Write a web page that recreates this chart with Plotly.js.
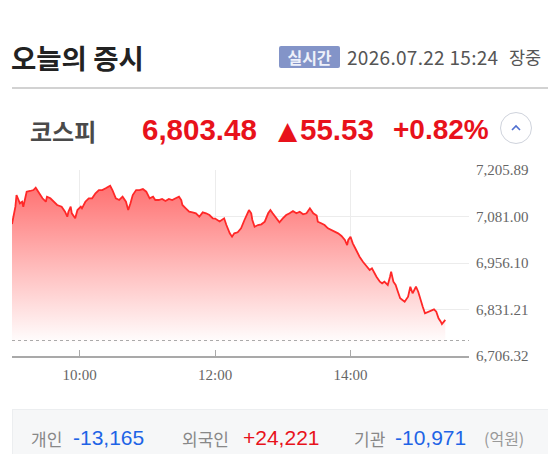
<!DOCTYPE html>
<html><head><meta charset="utf-8">
<script src="https://cdn.plot.ly/plotly-3.0.1.min.js"></script>
<style>
body{margin:0;width:548px;height:454px;overflow:hidden;background:#fff;position:relative;font-family:'Noto Sans CJK KR','Noto Sans',sans-serif;}
.abs{position:absolute;white-space:nowrap;}
.row{position:absolute;display:flex;align-items:center;white-space:nowrap;}
.num{font-family:'Liberation Sans',Arial,sans-serif;}
</style></head><body>
<div id="chart" style="position:absolute;left:0;top:0;width:548px;height:454px;"></div>

<div class="row" style="left:11px;top:40px;height:34px;font-size:27.5px;font-weight:700;color:#222;letter-spacing:0px;">오늘의 증시</div>
<div class="row" style="left:279px;top:46px;width:61px;height:22px;justify-content:center;background:#8394c8;color:#eef1fa;font-size:16px;font-weight:700;border-radius:2px;">실시간</div>
<div class="row" style="left:347px;top:43px;height:26px;font-size:19px;color:#555;letter-spacing:0.3px;">2026.07.22 15:24</div>
<div class="row" style="left:509px;top:43px;height:26px;font-size:17.5px;color:#555;letter-spacing:0px;">장중</div>
<div class="abs" style="left:12px;top:87px;width:536px;height:2px;background:#d2d2d2;"></div>

<div class="row" style="left:30px;top:115px;height:30px;font-size:24px;font-weight:700;color:#4a4a4a;">코스피</div>
<div class="row num" style="left:142px;top:114px;height:32px;font-size:29.5px;font-weight:700;color:#e8121b;">6,803.48</div>
<div class="row" style="left:278px;top:114px;height:32px;font-size:25px;color:#e8121b;font-family:'DejaVu Sans';">▲</div>
<div class="row num" style="left:300px;top:114px;height:32px;font-size:29.5px;font-weight:700;color:#e8121b;">55.53</div>
<div class="row num" style="left:393px;top:114px;height:32px;font-size:28px;font-weight:700;color:#e8121b;">+0.82%</div>
<div class="abs" style="left:500px;top:112px;width:32px;height:32px;border:1px solid #cfd3dc;border-radius:50%;box-sizing:border-box;background:#fff;">
  <svg width="30" height="30" style="position:absolute;left:0;top:0"><polyline points="11,17 15,13 19,17" fill="none" stroke="#4f6fd0" stroke-width="1.6"/></svg>
</div>

<div class="abs" style="left:12px;top:409px;width:540px;height:50px;background:#f6f7f8;border:1px solid #eceef0;box-sizing:border-box;"></div>
<div class="row" style="left:31px;top:424px;height:28px;font-size:17px;color:#888;">개인</div>
<div class="row num" style="left:73px;top:424px;height:28px;font-size:21px;color:#1e64e6;">-13,165</div>
<div class="row" style="left:182px;top:424px;height:28px;font-size:17px;color:#888;">외국인</div>
<div class="row num" style="left:243px;top:424px;height:28px;font-size:21px;color:#e8121b;">+24,221</div>
<div class="row" style="left:354px;top:424px;height:28px;font-size:17px;color:#888;">기관</div>
<div class="row num" style="left:395px;top:424px;height:28px;font-size:21px;color:#1e64e6;">-10,971</div>
<div class="row" style="left:484px;top:424px;height:28px;font-size:16px;color:#999;">(억원)</div>

<script>
const day = '2026-07-22 ';
const times = ['09:00','09:03','09:04','09:06','09:07','09:09','09:10','09:12','09:13','09:16','09:19','09:21','09:24','09:27','09:30','09:31','09:34','09:37','09:40','09:44','09:47','09:49','09:50','09:52','09:53','09:56','09:58','10:01','10:02','10:05','10:08','10:11','10:14','10:17','10:20','10:23','10:26','10:27','10:29','10:32','10:35','10:38','10:41','10:43','10:45','10:47','10:50','10:53','10:56','10:59','11:02','11:05','11:07','11:10','11:13','11:16','11:19','11:22','11:25','11:28','11:30','11:31','11:34','11:37','11:40','11:43','11:46','11:49','11:52','11:55','11:58','12:00','12:04','12:08','12:10','12:13','12:15','12:17','12:20','12:23','12:26','12:29','12:30','12:32','12:33','12:35','12:38','12:41','12:44','12:47','12:49','12:51','12:54','12:57','13:00','13:03','13:06','13:09','13:12','13:15','13:18','13:21','13:24','13:27','13:30','13:31','13:34','13:37','13:40','13:43','13:46','13:49','13:52','13:55','13:57','13:58','14:00','14:02','14:05','14:08','14:11','14:14','14:17','14:19','14:21','14:23','14:26','14:28','14:30','14:33','14:35','14:36','14:38','14:40','14:42','14:44','14:46','14:48','14:51','14:53','14:55','14:58','15:00','15:02','15:04','15:06','15:09','15:12','15:14','15:16','15:18','15:20','15:21','15:24'];
const values = [7060.8,7107.3,7138.7,7125.3,7116.4,7120.7,7107.3,7134.2,7147.6,7149.5,7152.1,7158.3,7143.3,7129.9,7120.7,7134.2,7129.9,7120.7,7111.9,7107.3,7093.9,7080.4,7093.9,7107.3,7089.6,7076.1,7098.4,7107.3,7103.0,7120.7,7129.9,7129.9,7143.3,7152.1,7152.1,7156.7,7161.0,7163.7,7152.1,7129.9,7125.3,7134.2,7120.7,7098.4,7116.4,7138.7,7152.1,7152.1,7154.8,7147.6,7129.9,7134.2,7125.3,7125.3,7128.0,7122.6,7128.0,7125.3,7129.9,7134.2,7125.3,7111.9,7103.0,7093.9,7092.2,7089.6,7080.4,7092.2,7089.6,7085.0,7076.1,7075.6,7067.5,7076.1,7058.1,7035.8,7026.7,7035.8,7038.5,7049.3,7071.6,7093.9,7098.4,7089.6,7071.6,7053.6,7058.1,7060.0,7067.0,7089.6,7098.4,7089.6,7076.1,7065.4,7076.1,7085.0,7089.6,7095.7,7089.6,7093.9,7086.9,7089.6,7103.0,7089.6,7083.7,7067.0,7062.7,7058.1,7049.3,7044.7,7040.1,7035.8,7028.6,7017.9,7004.4,7017.9,7026.7,7009.0,6991.0,6973.0,6959.6,6949.4,6937.3,6941.8,6928.4,6919.3,6905.9,6901.6,6905.9,6897.0,6919.3,6932.7,6905.9,6897.0,6879.0,6861.3,6856.7,6852.1,6865.6,6892.4,6874.7,6892.4,6879.0,6856.7,6838.7,6821.0,6825.3,6829.8,6831.7,6825.3,6807.6,6798.4,6792.2,6803.48];
const yTicks = [6706.32, 6831.21, 6956.10, 7081.00, 7205.89];
const yTickText = ['6,706.32','6,831.21','6,956.10','7,081.00','7,205.89'];
const xTicks = ['10:00','12:00','14:00'];
const prevClose = 6747.95;
const xStart = '09:00', xEnd = '15:45';

const trace = {
  x: times.map(t => day + t),
  y: values,
  type: 'scatter',
  mode: 'lines',
  line: {color: 'rgb(255,40,40)', width: 1.8},
  fill: 'tozeroy',
  fillgradient: {
    type: 'vertical',
    start: 6738, stop: 7165,
    colorscale: [[0, 'rgb(255,255,255)'], [0.5, 'rgb(255,185,185)'], [1, 'rgb(255,112,112)']]
  },
  hoverinfo: 'skip'
};

const layout = {
  width: 548, height: 454,
  margin: {l: 12, r: 79, t: 170, b: 98},
  paper_bgcolor: 'rgba(0,0,0,0)',
  plot_bgcolor: 'rgba(0,0,0,0)',
  showlegend: false,
  xaxis: {
    type: 'date',
    range: [day + xStart, day + xEnd],
    tickvals: xTicks.map(t => day + t),
    ticktext: xTicks,
    ticks: 'inside', ticklen: 6, tickcolor: '#aaa', tickwidth: 1,
    ticklabelstandoff: 4,
    showgrid: true, gridcolor: '#ececec', gridwidth: 1,
    showline: true, linecolor: '#a9a9a9', linewidth: 1.5,
    zeroline: false,
    tickfont: {family: 'Liberation Serif, serif', size: 15, color: '#666'},
    fixedrange: true
  },
  yaxis: {
    range: [yTicks[0], yTicks[yTicks.length - 1]],
    side: 'right',
    tickvals: yTicks,
    ticktext: yTickText,
    ticks: '',
    ticklabelstandoff: 6,
    showgrid: true, gridcolor: '#ececec', gridwidth: 1,
    zeroline: false, showline: false,
    tickfont: {family: 'Liberation Serif, serif', size: 15, color: '#666'},
    fixedrange: true
  },
  shapes: [{
    type: 'line', xref: 'paper', x0: 0, x1: 1, yref: 'y', y0: prevClose, y1: prevClose,
    line: {color: '#aaa', width: 1, dash: 'dot'}
  }]
};

Plotly.newPlot('chart', [trace], layout, {displayModeBar: false, staticPlot: true});
</script>
</body></html>
